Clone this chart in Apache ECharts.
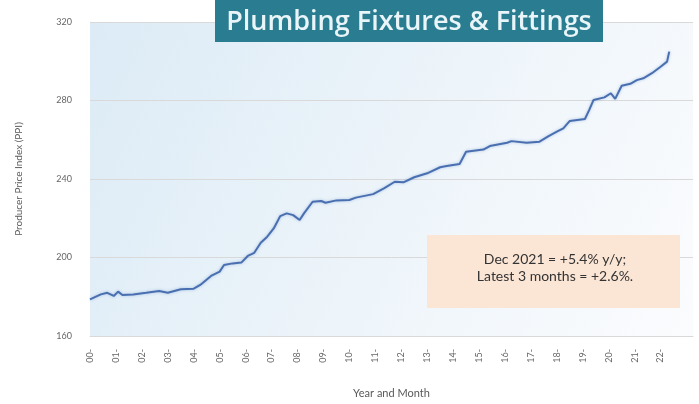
<!DOCTYPE html>
<html>
<head>
<meta charset="utf-8">
<title>Plumbing Fixtures & Fittings</title>
<script src="https://cdn.jsdelivr.net/npm/echarts@6/dist/echarts.min.js"></script>
<style>
  html, body { margin: 0; padding: 0; background: #ffffff; }
  #chart { width: 699px; height: 404px; }
</style>
</head>
<body>
<div id="chart"></div>
<script>
// Months elapsed since Jan 2000 for each sampled point
var monthIndex = [0, 5, 8, 11, 13, 15, 20, 26, 32, 36, 42, 48, 51, 56, 60, 62, 66, 70, 73, 76,
  79, 82, 85, 88, 91, 94, 97, 99, 103, 107, 109, 114, 120, 123, 131, 136, 141, 145, 150, 156,
  162, 165, 171, 174, 182, 185, 193, 195, 202, 208, 212, 216, 219, 222, 229, 231, 233, 238, 241, 243,
  246, 250, 253, 256, 260, 264, 267, 268];
// Producer Price Index at each sampled month
var ppi = [178.7, 181.2, 182.0, 180.4, 182.6, 180.9, 181.2, 182.0, 182.9, 182.0, 183.8, 184.1, 186.0, 190.6, 192.8, 196.2, 197.0, 197.4, 200.8, 202.4,
  207.5, 210.6, 214.8, 221.1, 222.5, 221.6, 219.1, 222.5, 228.4, 228.8, 227.9, 229.1, 229.3, 230.5, 232.3, 235.2, 238.6, 238.3, 240.9, 242.9,
  246.0, 246.6, 247.6, 253.9, 255.0, 256.8, 258.5, 259.3, 258.5, 259.0, 261.7, 264.1, 265.8, 269.6, 270.6, 275.2, 280.3, 281.6, 283.7, 280.8,
  287.5, 288.5, 290.4, 291.3, 293.9, 297.2, 299.8, 304.9];
// Year tick labels, one per January
var yearLabels = ['00-', '01-', '02-', '03-', '04-', '05-', '06-', '07-', '08-', '09-', '10-', '11-',
  '12-', '13-', '14-', '15-', '16-', '17-', '18-', '19-', '20-', '21-', '22-'];
var yTicks = [160, 200, 240, 280, 320];

var titleText = 'Plumbing Fixtures & Fittings';
var noteLines = ['Dec 2021 = +5.4% y/y;', 'Latest 3 months = +2.6%.'];

var seriesData = monthIndex.map(function (m, i) { return [m, ppi[i]]; });

var chart = echarts.init(document.getElementById('chart'), null, { renderer: 'canvas' });

chart.setOption({
  backgroundColor: '#ffffff',
  animation: false,
  grid: {
    left: 90, right: 6, top: 22, bottom: 68,
    show: true,
    borderWidth: 0,
    backgroundColor: new echarts.graphic.LinearGradient(0, 0, 1, 1, [
      { offset: 0, color: '#dcebf6' },
      { offset: 0.55, color: '#eef5fa' },
      { offset: 1, color: '#fbfcfe' }
    ])
  },
  xAxis: {
    type: 'value',
    min: 0,
    max: 279,
    interval: 12,
    name: 'Year and Month',
    nameLocation: 'middle',
    nameGap: 52,
    nameTextStyle: { color: '#595959', fontFamily: 'Lato', fontSize: 11 },
    axisLine: { show: true, lineStyle: { color: '#d9d9d9' } },
    axisTick: { show: false },
    splitLine: { show: false },
    axisLabel: {
      rotate: 90,
      showMaxLabel: false,
      color: '#666666',
      fontFamily: 'Lato',
      fontSize: 9,
      margin: 13,
      formatter: function (v) { return yearLabels[Math.round(v / 12)] || ''; }
    }
  },
  yAxis: {
    type: 'value',
    min: yTicks[0],
    max: yTicks[yTicks.length - 1],
    interval: 40,
    name: 'Producer Price Index (PPI)',
    nameLocation: 'middle',
    nameGap: 66,
    nameTextStyle: { color: '#595959', fontFamily: 'Lato', fontSize: 10 },
    axisLine: { show: false },
    axisTick: { show: false },
    splitLine: { lineStyle: { color: '#d9d9d9', width: 1 } },
    axisLabel: { color: '#666666', fontFamily: 'Lato', fontSize: 9, margin: 18 }
  },
  series: [{
    type: 'line',
    data: seriesData,
    showSymbol: false,
    lineStyle: {
      color: '#4a6fb0',
      width: 2,
      shadowColor: 'rgba(80,130,200,0.45)',
      shadowBlur: 3
    },
    z: 3
  }],
  graphic: [
    {
      type: 'rect',
      left: 215, top: 0,
      shape: { width: 388, height: 42 },
      style: { fill: '#2a7d91' },
      z: 10
    },
    {
      type: 'text',
      x: 409, y: 22,
      style: {
        text: titleText,
        fill: '#e9f5f8',
        font: '600 27px "Open Sans"',
        align: 'center',
        verticalAlign: 'middle'
      },
      z: 11
    },
    {
      type: 'rect',
      left: 427, top: 235,
      shape: { width: 253, height: 73 },
      style: { fill: '#fbe5d5' },
      z: 10
    },
    {
      type: 'text',
      x: 555, y: 268,
      style: {
        text: noteLines.join('\n'),
        fill: '#333333',
        font: '14px Lato',
        align: 'center',
        verticalAlign: 'middle',
        lineHeight: 17
      },
      z: 11
    }
  ]
});
</script>
</body>
</html>
